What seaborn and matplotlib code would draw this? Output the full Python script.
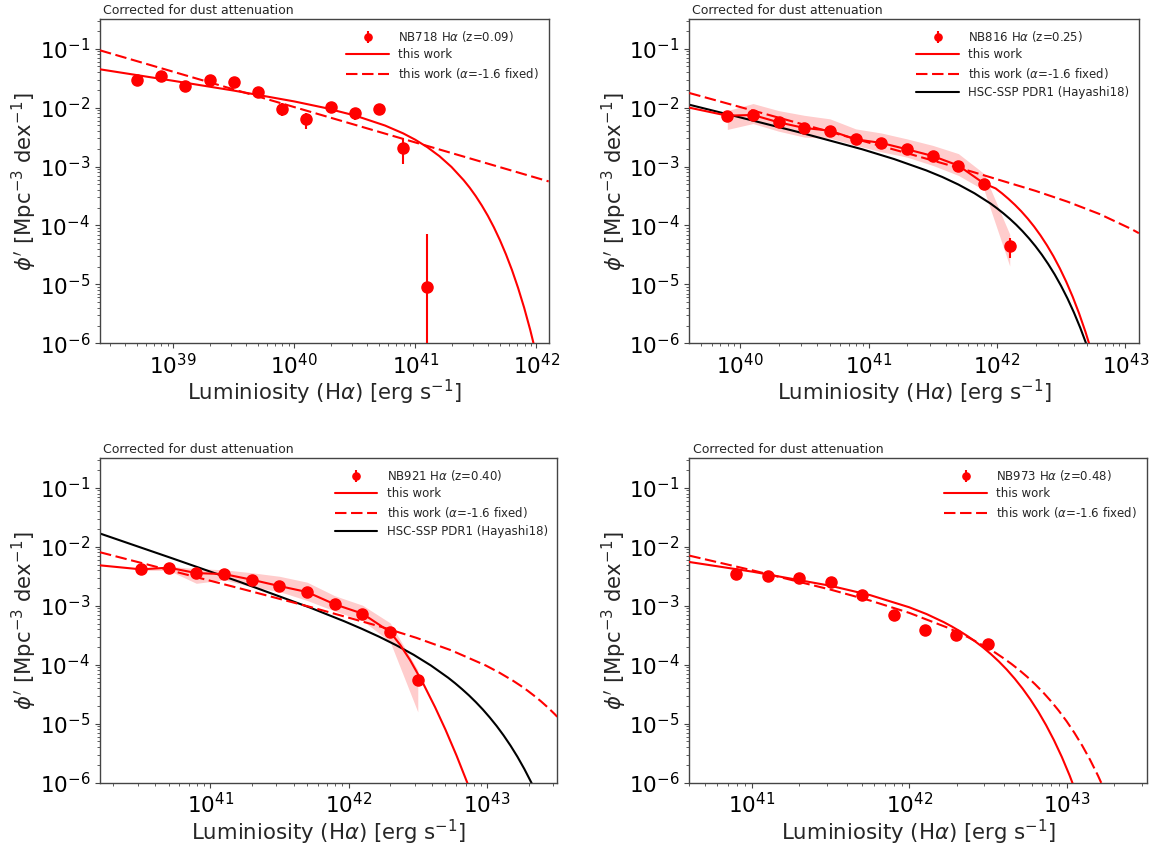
import numpy as np
import matplotlib
matplotlib.use("Agg")
import matplotlib.pyplot as plt
from matplotlib.ticker import LogLocator
import seaborn as sns

# ------------------------------------------------------------------ data
# Panel 1 : NB718 (z=0.09)
nb718_logL = [38.7, 38.9, 39.1, 39.3, 39.5, 39.7, 39.9, 40.1, 40.3, 40.5, 40.7, 40.9, 41.1]
nb718_phi = [3.0e-2, 3.44e-2, 2.33e-2, 3.0e-2, 2.69e-2, 1.85e-2, 9.6e-3, 6.3e-3, 1.03e-2,
             8.0e-3, 9.6e-3, 2.05e-3, 8.9e-6]
nb718_err = [3e-3, 3e-3, 2.5e-3, 3e-3, 3e-3, 2e-3, 2.3e-3, 1.9e-3, 1.5e-3, 1.9e-3, 1.5e-3,
             0.95e-3, 6.4e-5]
nb718_fit_logL = [38.395, 39.0, 39.5, 40.0, 40.25, 40.5, 40.75, 40.9, 41.0, 41.1, 41.2, 41.3,
                  41.4, 41.45, 41.5, 41.55, 41.6, 41.65, 41.7, 41.75, 41.8, 41.85, 41.9, 41.95,
                  42.0, 42.05, 42.1]
nb718_fit_logphi = [-1.349, -1.544, -1.710, -1.894, -2.002, -2.132, -2.303, -2.436, -2.544,
                    -2.671, -2.823, -3.007, -3.230, -3.358, -3.501, -3.660, -3.835, -4.031,
                    -4.249, -4.491, -4.759, -5.060, -5.395, -5.770, -6.187, -6.654, -7.175]
nb718_fix_logL = [38.395, 39.5, 40.5, 41.5, 42.103]
nb718_fix_logphi = [-1.027, -1.690, -2.290, -2.890, -3.252]

# Panel 2 : NB816 (z=0.25)
nb816_logL = [39.9, 40.1, 40.3, 40.5, 40.7, 40.9, 41.1, 41.3, 41.5, 41.7, 41.9, 42.1]
nb816_phi = [7.3e-3, 7.52e-3, 5.64e-3, 4.52e-3, 4.07e-3, 2.90e-3, 2.52e-3, 1.96e-3, 1.51e-3,
             1.04e-3, 5.15e-4, 4.46e-5]
nb816_err = [4e-4, 4e-4, 3e-4, 2.5e-4, 2e-4, 1.5e-4, 1.2e-4, 1e-4, 8e-5, 6e-5, 4e-5, 1.6e-5]
nb816_band_hi = [-2.05, -1.93, -2.05, -2.13, -2.19, -2.36, -2.43, -2.53, -2.64, -2.78, -3.12, -4.15]
nb816_band_lo = [-2.37, -2.27, -2.40, -2.50, -2.52, -2.64, -2.75, -2.84, -2.98, -3.15, -3.40, -4.69]
nb816_fit_logL = [39.604, 39.9, 40.1, 40.3, 40.5, 40.7, 40.9, 41.1, 41.3, 41.5, 41.7, 41.9,
                  41.99, 42.04, 42.09, 42.14, 42.19, 42.24, 42.29, 42.34, 42.39, 42.44, 42.49,
                  42.54, 42.59, 42.64, 42.69, 42.74, 42.79]
nb816_fit_logphi = [-2.00, -2.136, -2.124, -2.249, -2.345, -2.390, -2.537, -2.599, -2.707,
                    -2.820, -2.983, -3.288, -3.371, -3.455, -3.548, -3.649, -3.760, -3.883,
                    -4.019, -4.170, -4.337, -4.521, -4.727, -4.955, -5.209, -5.492, -5.807,
                    -6.158, -6.551]
nb816_fix_logL = [39.604, 40.5, 41.3, 41.8, 42.3, 42.55, 42.8, 43.05, 43.106]
nb816_fix_logphi = [-1.751, -2.290, -2.773, -3.083, -3.412, -3.596, -3.806, -4.063, -4.131]
nb816_h18_logL = [39.604, 40.0, 40.45, 40.95, 41.2, 41.45, 41.575, 41.7, 41.825, 41.95, 42.0,
                  42.05, 42.1, 42.15, 42.2, 42.25, 42.3, 42.35, 42.4, 42.45, 42.5, 42.55, 42.6,
                  42.65, 42.7, 42.75]
nb816_h18_logphi = [-1.950, -2.165, -2.412, -2.706, -2.873, -3.065, -3.177, -3.305, -3.453,
                    -3.627, -3.707, -3.793, -3.886, -3.987, -4.098, -4.219, -4.351, -4.496,
                    -4.656, -4.831, -5.026, -5.240, -5.478, -5.741, -6.033, -6.357]

# Panel 3 : NB921 (z=0.40)
nb921_logL = [40.5, 40.7, 40.9, 41.1, 41.3, 41.5, 41.7, 41.9, 42.1, 42.3, 42.5]
nb921_phi = [4.14e-3, 4.43e-3, 3.58e-3, 3.44e-3, 2.77e-3, 2.16e-3, 1.71e-3, 1.06e-3, 7.36e-4,
             3.60e-4, 5.47e-5]
nb921_err = [3e-4, 3e-4, 2.5e-4, 2e-4, 1.5e-4, 1.2e-4, 1e-4, 8e-5, 6e-5, 3e-5, 8e-6]
nb921_band_hi = [-2.36, -2.33, -2.37, -2.39, -2.44, -2.50, -2.60, -2.83, -2.99, -3.29, -4.09]
nb921_band_lo = [-2.40, -2.40, -2.62, -2.56, -2.68, -2.76, -2.91, -3.09, -3.25, -3.61, -4.80]
nb921_fit_logL = [40.204, 40.5, 40.7, 40.9, 41.1, 41.3, 41.5, 41.7, 41.9, 42.1, 42.3, 42.372,
                  42.444, 42.535, 42.625, 42.70, 42.78, 42.866, 42.92]
nb921_fit_logphi = [-2.315, -2.383, -2.354, -2.446, -2.463, -2.558, -2.666, -2.767, -2.976,
                    -3.133, -3.444, -3.66, -3.92, -4.30, -4.72, -5.10, -5.54, -6.05, -6.40]
nb921_fix_logL = [40.204, 40.74, 41.24, 41.74, 42.24, 42.49, 42.74, 42.99, 43.09, 43.19, 43.24,
                  43.29, 43.34, 43.39, 43.44, 43.49, 43.508]
nb921_fix_logphi = [-2.093, -2.418, -2.721, -3.031, -3.360, -3.544, -3.754, -4.011, -4.135,
                    -4.274, -4.351, -4.434, -4.524, -4.620, -4.725, -4.839, -4.883]
nb921_h18_logL = [40.204, 40.72, 41.22, 41.72, 41.97, 42.095, 42.22, 42.345, 42.47, 42.595,
                  42.72, 42.77, 42.82, 42.87, 42.92, 42.97, 43.02, 43.07, 43.12, 43.17, 43.22,
                  43.27, 43.32, 43.37, 43.42]
nb921_h18_logphi = [-1.775, -2.191, -2.601, -3.030, -3.264, -3.390, -3.524, -3.670, -3.831,
                    -4.013, -4.221, -4.314, -4.414, -4.520, -4.635, -4.759, -4.894, -5.039,
                    -5.198, -5.371, -5.560, -5.768, -5.996, -6.247, -6.524]

# Panel 4 : NB973 (z=0.48)
nb973_logL = [40.9, 41.1, 41.3, 41.5, 41.7, 41.9, 42.1, 42.3, 42.5]
nb973_phi = [3.50e-3, 3.24e-3, 2.92e-3, 2.53e-3, 1.55e-3, 7.08e-4, 3.89e-4, 3.24e-4, 2.25e-4]
nb973_err = [3e-4, 3e-4, 2.5e-4, 2.5e-4, 1.5e-4, 8e-5, 6e-5, 5e-5, 3e-5]
nb973_fit_logL = [40.601, 41.0, 41.5, 41.75, 42.0, 42.11, 42.22, 42.27, 42.32, 42.37, 42.42,
                  42.47, 42.52, 42.57, 42.62, 42.67, 42.72, 42.77, 42.82, 42.87, 42.92, 42.97,
                  43.02, 43.07, 43.12]
nb973_fit_logphi = [-2.258, -2.421, -2.662, -2.819, -3.026, -3.141, -3.279, -3.351, -3.429,
                    -3.514, -3.607, -3.709, -3.822, -3.946, -4.083, -4.235, -4.403, -4.589,
                    -4.795, -5.025, -5.280, -5.564, -5.881, -6.233, -6.627]
nb973_fix_logL = [40.601, 41.0, 41.5, 41.75, 42.0, 42.25, 42.375, 42.5, 42.55, 42.6, 42.65,
                  42.7, 42.75, 42.8, 42.85, 42.9, 42.95, 43.0, 43.05, 43.1, 43.15, 43.2, 43.25,
                  43.3]
nb973_fix_logphi = [-2.150, -2.398, -2.727, -2.911, -3.121, -3.378, -3.535, -3.718, -3.801,
                    -3.891, -3.987, -4.092, -4.206, -4.331, -4.466, -4.615, -4.778, -4.957,
                    -5.155, -5.373, -5.614, -5.881, -6.176, -6.504]

labels_data = ["NB718 H$\\alpha$ (z=0.09)", "NB816 H$\\alpha$ (z=0.25)",
               "NB921 H$\\alpha$ (z=0.40)", "NB973 H$\\alpha$ (z=0.48)"]
label_fit = "this work"
label_fix = "this work ($\\alpha$=-1.6 fixed)"
label_h18 = "HSC-SSP PDR1 (Hayashi18)"
title_text = "Corrected for dust attenuation"
xlabel_text = "Luminiosity (H$\\alpha$) [erg s$^{-1}$]"
ylabel_text = "$\\phi'$ [Mpc$^{-3}$ dex$^{-1}$]"

xlims_log = [(38.395, 42.103), (39.604, 43.106), (40.204, 43.508), (40.601, 43.509)]
ylim = (1e-6, 10 ** -0.5)

# ------------------------------------------------------------------ style
sns.set_theme(style="ticks")
plt.rcParams.update({
    "font.family": ["DejaVu Sans"],
    "mathtext.fontset": "dejavusans",
    "axes.edgecolor": "#444444",
    "axes.linewidth": 1.0,
    "xtick.color": "#444444",
    "ytick.color": "#444444",
    "xtick.labelcolor": "black",
    "ytick.labelcolor": "black",
    "xtick.major.size": 3.5,
    "ytick.major.size": 3.5,
    "xtick.minor.size": 2.0,
    "ytick.minor.size": 2.0,
    "xtick.major.width": 0.8,
    "ytick.major.width": 0.8,
    "xtick.minor.width": 0.6,
    "ytick.minor.width": 0.6,
})

W, H = 1155, 848
fig = plt.figure(figsize=(W / 100, H / 100), dpi=100)
fig.patch.set_facecolor("white")

boxes = [
    (100.0, 19.3, 448.7, 324.0),
    (689.3, 19.3, 449.6, 324.0),
    (100.0, 458.3, 457.3, 324.4),
    (689.3, 458.3, 457.3, 324.4),
]

panels = [
    dict(logL=nb718_logL, phi=nb718_phi, err=nb718_err,
         fit=(nb718_fit_logL, nb718_fit_logphi), fix=(nb718_fix_logL, nb718_fix_logphi),
         h18=None, band=None),
    dict(logL=nb816_logL, phi=nb816_phi, err=nb816_err,
         fit=(nb816_fit_logL, nb816_fit_logphi), fix=(nb816_fix_logL, nb816_fix_logphi),
         h18=(nb816_h18_logL, nb816_h18_logphi), band=(nb816_band_lo, nb816_band_hi)),
    dict(logL=nb921_logL, phi=nb921_phi, err=nb921_err,
         fit=(nb921_fit_logL, nb921_fit_logphi), fix=(nb921_fix_logL, nb921_fix_logphi),
         h18=(nb921_h18_logL, nb921_h18_logphi), band=(nb921_band_lo, nb921_band_hi)),
    dict(logL=nb973_logL, phi=nb973_phi, err=nb973_err,
         fit=(nb973_fit_logL, nb973_fit_logphi), fix=(nb973_fix_logL, nb973_fix_logphi),
         h18=None, band=None),
]

dash = (0, (5.5, 2.2))
minor_subs = [2, 3, 4, 5, 6, 7, 8, 9]

for i, (p, box) in enumerate(zip(panels, boxes)):
    x0, y0, w, h = box
    ax = fig.add_axes([x0 / W, (H - y0 - h) / H, w / W, h / H])
    ax.set_xscale("log")
    ax.set_yscale("log")

    L = 10 ** np.array(p["logL"])

    if p["band"] is not None:
        lo, hi = p["band"]
        ax.fill_between(L, 10 ** np.array(lo), 10 ** np.array(hi),
                        color="red", alpha=0.2, lw=0, zorder=1)

    handles = []
    h_data = ax.errorbar(L, p["phi"], yerr=p["err"], fmt="o", color="red",
                         ms=8, elinewidth=1.5, capsize=0, zorder=5)
    handles.append((h_data, labels_data[i]))

    fx, fy = p["fit"]
    sns.lineplot(x=10 ** np.array(fx), y=10 ** np.array(fy), ax=ax, color="red",
                 lw=1.5, estimator=None, sort=False, legend=False, zorder=4)
    handles.append((ax.lines[-1], label_fit))

    dx, dy = p["fix"]
    sns.lineplot(x=10 ** np.array(dx), y=10 ** np.array(dy), ax=ax, color="red",
                 lw=1.5, estimator=None, sort=False, legend=False, zorder=3)
    ax.lines[-1].set_linestyle(dash)
    handles.append((ax.lines[-1], label_fix))

    if p["h18"] is not None:
        hx, hy = p["h18"]
        sns.lineplot(x=10 ** np.array(hx), y=10 ** np.array(hy), ax=ax, color="black",
                     lw=1.5, estimator=None, sort=False, legend=False, zorder=2)
        handles.append((ax.lines[-1], label_h18))

    xl = xlims_log[i]
    ax.set_xlim(10 ** xl[0], 10 ** xl[1])
    ax.set_ylim(*ylim)

    ax.yaxis.set_major_locator(LogLocator(base=10, numticks=20))
    ax.yaxis.set_minor_locator(LogLocator(base=10, subs=minor_subs, numticks=40))
    ax.xaxis.set_major_locator(LogLocator(base=10, numticks=20))
    ax.xaxis.set_minor_locator(LogLocator(base=10, subs=minor_subs, numticks=40))
    ax.tick_params(axis="both", which="major", labelsize=15.5)
    ax.tick_params(axis="both", which="minor", labelbottom=False, labelleft=False)

    ax.set_xlabel(xlabel_text, fontsize=15.3, labelpad=0)
    ax.set_ylabel(ylabel_text, fontsize=15.3, labelpad=0)
    ax.set_title(title_text, loc="left", fontsize=9.0, pad=4, x=0.007)

    ax.legend([hh for hh, _ in handles], [ll for _, ll in handles], loc="upper right",
              frameon=False, fontsize=8.5, handlelength=3.6, markerscale=0.65,
              labelspacing=0.4, borderaxespad=0.4)

fig.savefig("out.png", dpi=100, facecolor="white")
